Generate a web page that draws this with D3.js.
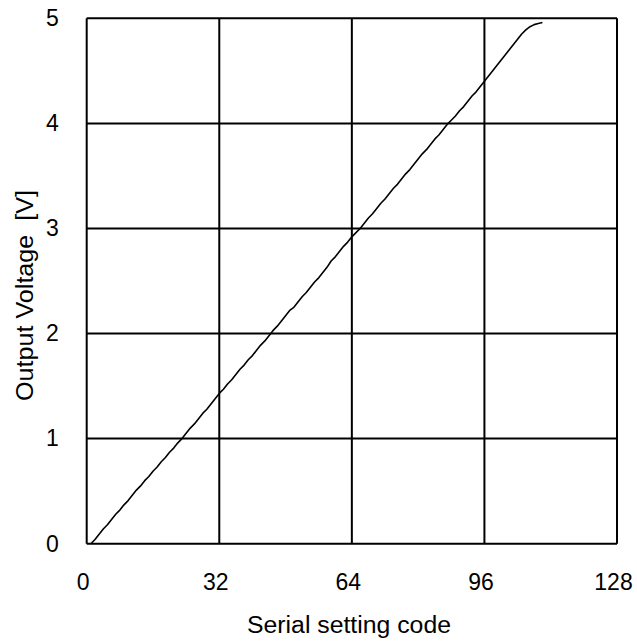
<!DOCTYPE html>
<html>
<head>
<meta charset="utf-8">
<script src="https://cdn.jsdelivr.net/npm/d3@7"></script>
<style>
  html, body { margin: 0; padding: 0; background: #fff; }
  text { font-family: Arial, "Liberation Sans", sans-serif; fill: #000; }
</style>
</head>
<body>
<div id="chart"></div>
<script>
// serial setting code vs output voltage
const codes = [
  1, 2, 3, 4, 5, 6, 7, 8, 9, 10, 11, 12, 13, 14, 15, 16, 17, 18, 19, 20,
  21, 22, 23, 24, 25, 26, 27, 28, 29, 30, 31, 32, 33, 34, 35, 36, 37, 38, 39, 40,
  41, 42, 43, 44, 45, 46, 47, 48, 49, 50, 51, 52, 53, 54, 55, 56, 57, 58, 59, 60,
  61, 62, 63, 64, 65, 66, 67, 68, 69, 70, 71, 72, 73, 74, 75, 76, 77, 78, 79, 80,
  81, 82, 83, 84, 85, 86, 87, 88, 89, 90, 91, 92, 93, 94, 95, 96, 97, 98, 99, 100,
  101, 102, 103, 104, 105, 106, 107, 108, 109, 110
];
const volts = [
  0.00, 0.04, 0.09, 0.14, 0.18, 0.23, 0.28, 0.32, 0.37, 0.41, 0.46, 0.51, 0.55, 0.60, 0.64, 0.69, 0.73, 0.78, 0.82, 0.87,
  0.91, 0.96, 1.00, 1.05, 1.10, 1.14, 1.19, 1.24, 1.28, 1.33, 1.38, 1.43, 1.47, 1.52, 1.56, 1.61, 1.66, 1.70, 1.75, 1.79,
  1.84, 1.89, 1.93, 1.98, 2.03, 2.07, 2.12, 2.17, 2.22, 2.25, 2.30, 2.35, 2.39, 2.44, 2.49, 2.53, 2.58, 2.63, 2.69, 2.73,
  2.78, 2.83, 2.87, 2.92, 2.96, 3.00, 3.05, 3.10, 3.14, 3.19, 3.24, 3.28, 3.33, 3.38, 3.42, 3.47, 3.52, 3.56, 3.61, 3.66,
  3.71, 3.75, 3.80, 3.85, 3.89, 3.94, 3.99, 4.03, 4.07, 4.12, 4.16, 4.21, 4.26, 4.30, 4.35, 4.40, 4.45, 4.50, 4.55, 4.60,
  4.65, 4.70, 4.75, 4.80, 4.85, 4.89, 4.92, 4.94, 4.95, 4.96
];
const xTicks = [0, 32, 64, 96, 128];
const yTicks = [0, 1, 2, 3, 4, 5];

const W = 637, H = 641;
const margin = {top: 18.3, right: 20, bottom: 97.3, left: 86.7};
const iw = W - margin.left - margin.right;
const ih = H - margin.top - margin.bottom;

const svg = d3.select('#chart').append('svg')
  .attr('width', W)
  .attr('height', H);

const g = svg.append('g')
  .attr('transform', `translate(${margin.left},${margin.top})`);

const x = d3.scaleLinear().domain([0, 128]).range([0, iw]);
const y = d3.scaleLinear().domain([0, 5]).range([ih, 0]);

// grid
g.append('g')
  .selectAll('line')
  .data(xTicks)
  .join('line')
  .attr('x1', d => x(d)).attr('x2', d => x(d))
  .attr('y1', 0).attr('y2', ih)
  .attr('stroke', '#000').attr('stroke-width', 2);

g.append('g')
  .selectAll('line')
  .data(yTicks)
  .join('line')
  .attr('x1', 0).attr('x2', iw)
  .attr('y1', d => y(d)).attr('y2', d => y(d))
  .attr('stroke', '#000').attr('stroke-width', 2);

// axes (labels only)
const xAxis = g.append('g')
  .attr('transform', `translate(0,${ih})`)
  .call(d3.axisBottom(x).tickValues(xTicks).tickFormat(d3.format('d')).tickSize(0).tickPadding(30));
xAxis.select('.domain').remove();
xAxis.selectAll('text')
  .attr('font-size', 23)
  .attr('dx', -4)
  .attr('font-family', 'Arial, "Liberation Sans", sans-serif');

const yAxis = g.append('g')
  .call(d3.axisLeft(y).tickValues(yTicks).tickFormat(d3.format('d')).tickSize(0).tickPadding(28));
yAxis.select('.domain').remove();
yAxis.selectAll('text')
  .attr('font-size', 23)
  .attr('font-family', 'Arial, "Liberation Sans", sans-serif');

// data line
const line = d3.line()
  .x((d, i) => x(codes[i]))
  .y(d => y(d));

g.append('path')
  .datum(volts)
  .attr('fill', 'none')
  .attr('stroke', '#000')
  .attr('stroke-width', 1.6)
  .attr('stroke-linejoin', 'round')
  .attr('d', line);

// axis titles
svg.append('text')
  .attr('x', 349)
  .attr('y', 633)
  .attr('text-anchor', 'middle')
  .attr('font-size', 23)
  .attr('textLength', 204)
  .attr('lengthAdjust', 'spacingAndGlyphs')
  .text('Serial setting code');

svg.append('text')
  .attr('transform', 'translate(33,401) rotate(-90)')
  .attr('font-size', 23)
  .attr('textLength', 211)
  .attr('lengthAdjust', 'spacingAndGlyphs')
  .style('white-space', 'pre')
  .text('Output Voltage  [V]');
</script>
</body>
</html>
